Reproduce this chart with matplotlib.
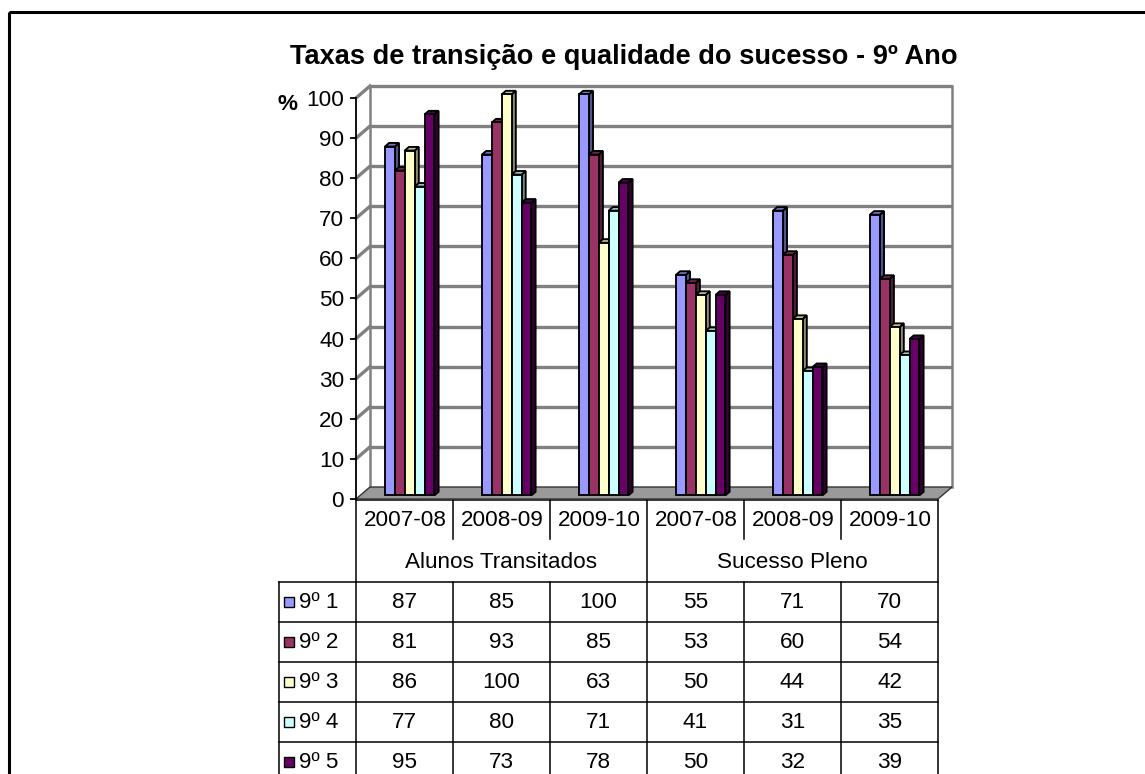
import matplotlib
matplotlib.use("Agg")
import matplotlib.pyplot as plt
from matplotlib.patches import Polygon, Rectangle
import numpy as np

plt.rcParams['font.family'] = ['Liberation Sans', 'DejaVu Sans']

# data
periods = ["2007-08", "2008-09", "2009-10", "2007-08", "2008-09", "2009-10"]
groups = ["Alunos Transitados", "Sucesso Pleno"]
series_names = ["9º 1", "9º 2", "9º 3", "9º 4", "9º 5"]
turma1 = [87, 85, 100, 55, 71, 70]
turma2 = [81, 93, 85, 53, 60, 54]
turma3 = [86, 100, 63, 50, 44, 42]
turma4 = [77, 80, 71, 41, 31, 35]
turma5 = [95, 73, 78, 50, 32, 39]
colors = ["#9999FF", "#993366", "#FFFFCC", "#CCFFFF", "#660066"]

all_series = [turma1, turma2, turma3, turma4, turma5]

W, H = 1145, 774
fs = 16.2
fig = plt.figure(figsize=(W / 100, H / 100), dpi=100)

# pixel layout of the plot box (front plane)
x0, x1 = 356, 938
y0, y1 = 499, 98
colw = (x1 - x0) / len(periods)

# overlay for border, title and data table (pixel coords)
ov = fig.add_axes([0, 0, 1, 1], zorder=0)
ov.set_xlim(0, W)
ov.set_ylim(H, 0)
ov.axis("off")

ax = fig.add_axes([x0 / W, 1 - y0 / H, (x1 - x0) / W, (y0 - y1) / H], zorder=1)
ax.set_xlim(0, len(periods))
ax.set_ylim(0, 100)
ax.patch.set_visible(False)
for s in ["top", "right", "bottom"]:
    ax.spines[s].set_visible(False)
ax.spines["left"].set_linewidth(1.3)
ax.set_xticks([])
ax.set_yticks(np.arange(0, 101, 10))
ax.tick_params(axis="y", direction="out", length=4.5, width=1.3, labelsize=fs, pad=4)

# depth of the 3d box, in data units
dx = 14 / colw
dy = 12 / ((y0 - y1) / 100)
gray = "#808080"

# walls and gridlines
n = len(periods)
for v in range(10, 101, 10):
    ax.plot([dx, n + dx], [v + dy, v + dy], color=gray, lw=2.4, clip_on=False, zorder=1,
            solid_capstyle="butt")
    ax.plot([0, dx], [v, v + dy], color=gray, lw=2.4, clip_on=False, zorder=1)
ax.plot([dx, dx], [dy, 100 + dy], color=gray, lw=1.8, clip_on=False, zorder=1)
ax.plot([n + dx, n + dx], [dy, 100 + dy], color=gray, lw=1.8, clip_on=False, zorder=1)
floor = Polygon([[0, 0], [n, 0], [n + dx, dy], [dx, dy]], closed=True,
                facecolor="#9a9a9a", edgecolor="#333333", lw=1, clip_on=False, zorder=2)
ax.add_patch(floor)

# bars with fake depth
bw = 0.102
f0, f1 = 0.3, 0.6
b0 = f0 * dy
ddx = (f1 - f0) * dx
ddy = (f1 - f0) * dy
elw = 1.35


def shade(c, k):
    rgb = np.array(matplotlib.colors.to_rgb(c))
    return tuple(rgb * k)


for j, (vals, col) in enumerate(zip(all_series, colors)):
    xs = np.arange(n) + 0.5 - 2.5 * bw + f0 * dx + j * bw + 0.01
    for i, v in enumerate(vals):
        xl = xs[i]
        side = Polygon([[xl + bw, b0], [xl + bw + ddx, b0 + ddy],
                        [xl + bw + ddx, b0 + v + ddy], [xl + bw, b0 + v]],
                       closed=True, facecolor=shade(col, 0.55), edgecolor="black",
                       lw=elw, clip_on=False, zorder=3 + j)
        top = Polygon([[xl, b0 + v], [xl + bw, b0 + v],
                       [xl + bw + ddx, b0 + v + ddy], [xl + ddx, b0 + v + ddy]],
                      closed=True, facecolor=shade(col, 0.75), edgecolor="black",
                      lw=elw, clip_on=False, zorder=3 + j)
        ax.add_patch(side)
        ax.add_patch(top)
    ax.bar(xs, vals, width=bw, bottom=b0, align="edge", color=col,
           edgecolor="black", linewidth=elw, zorder=3.5 + j, clip_on=False)

# title and unit
ov.text(624, 57, "Taxas de transição e qualidade do sucesso - 9º Ano",
        fontsize=19.6, fontweight="bold", ha="center", va="center")
ov.text(287, 104, "%", fontsize=fs, fontweight="bold", ha="center", va="center")

# outer border
ov.add_patch(Rectangle((9, 12), W + 20, H + 20, fill=False, edgecolor="black", lw=2.2))

# data table
lw_t = 1.1
colx = [x0 + colw * k for k in range(n + 1)]
row_top = 582
row_h = 40
lab_x = 279
ov.plot([x0, x1], [y0 + 1, y0 + 1], color="black", lw=lw_t)
for k in range(len(series_names)):
    yy = row_top + k * row_h
    ov.plot([lab_x, x1], [yy, yy], color="black", lw=lw_t)
ov.plot([lab_x, x1], [row_top + 5 * row_h, row_top + 5 * row_h], color="black", lw=lw_t)
ov.plot([lab_x, lab_x], [row_top, H + 5], color="black", lw=lw_t)
for k, xx in enumerate(colx):
    if k in (0, 3, 6):
        ov.plot([xx, xx], [y0, H + 5], color="black", lw=lw_t)
    else:
        ov.plot([xx, xx], [y0, 539], color="black", lw=lw_t)
        ov.plot([xx, xx], [row_top, H + 5], color="black", lw=lw_t)

for k, p in enumerate(periods):
    ov.text((colx[k] + colx[k + 1]) / 2 + 1, 521, p, fontsize=fs, ha="center", va="center")
ov.text((colx[0] + colx[3]) / 2, 562, groups[0], fontsize=fs, ha="center", va="center")
ov.text((colx[3] + colx[6]) / 2, 562, groups[1], fontsize=fs, ha="center", va="center")

for j, (name, vals, col) in enumerate(zip(series_names, all_series, colors)):
    yc = row_top + j * row_h + row_h / 2
    ov.add_patch(Rectangle((284, yc - 5), 10, 10, facecolor=col, edgecolor="black", lw=1))
    ov.text(299, yc, name, fontsize=fs, ha="left", va="center")
    for k, v in enumerate(vals):
        ov.text((colx[k] + colx[k + 1]) / 2, yc, str(v), fontsize=fs, ha="center", va="center")

fig.savefig("out.png", dpi=100)
